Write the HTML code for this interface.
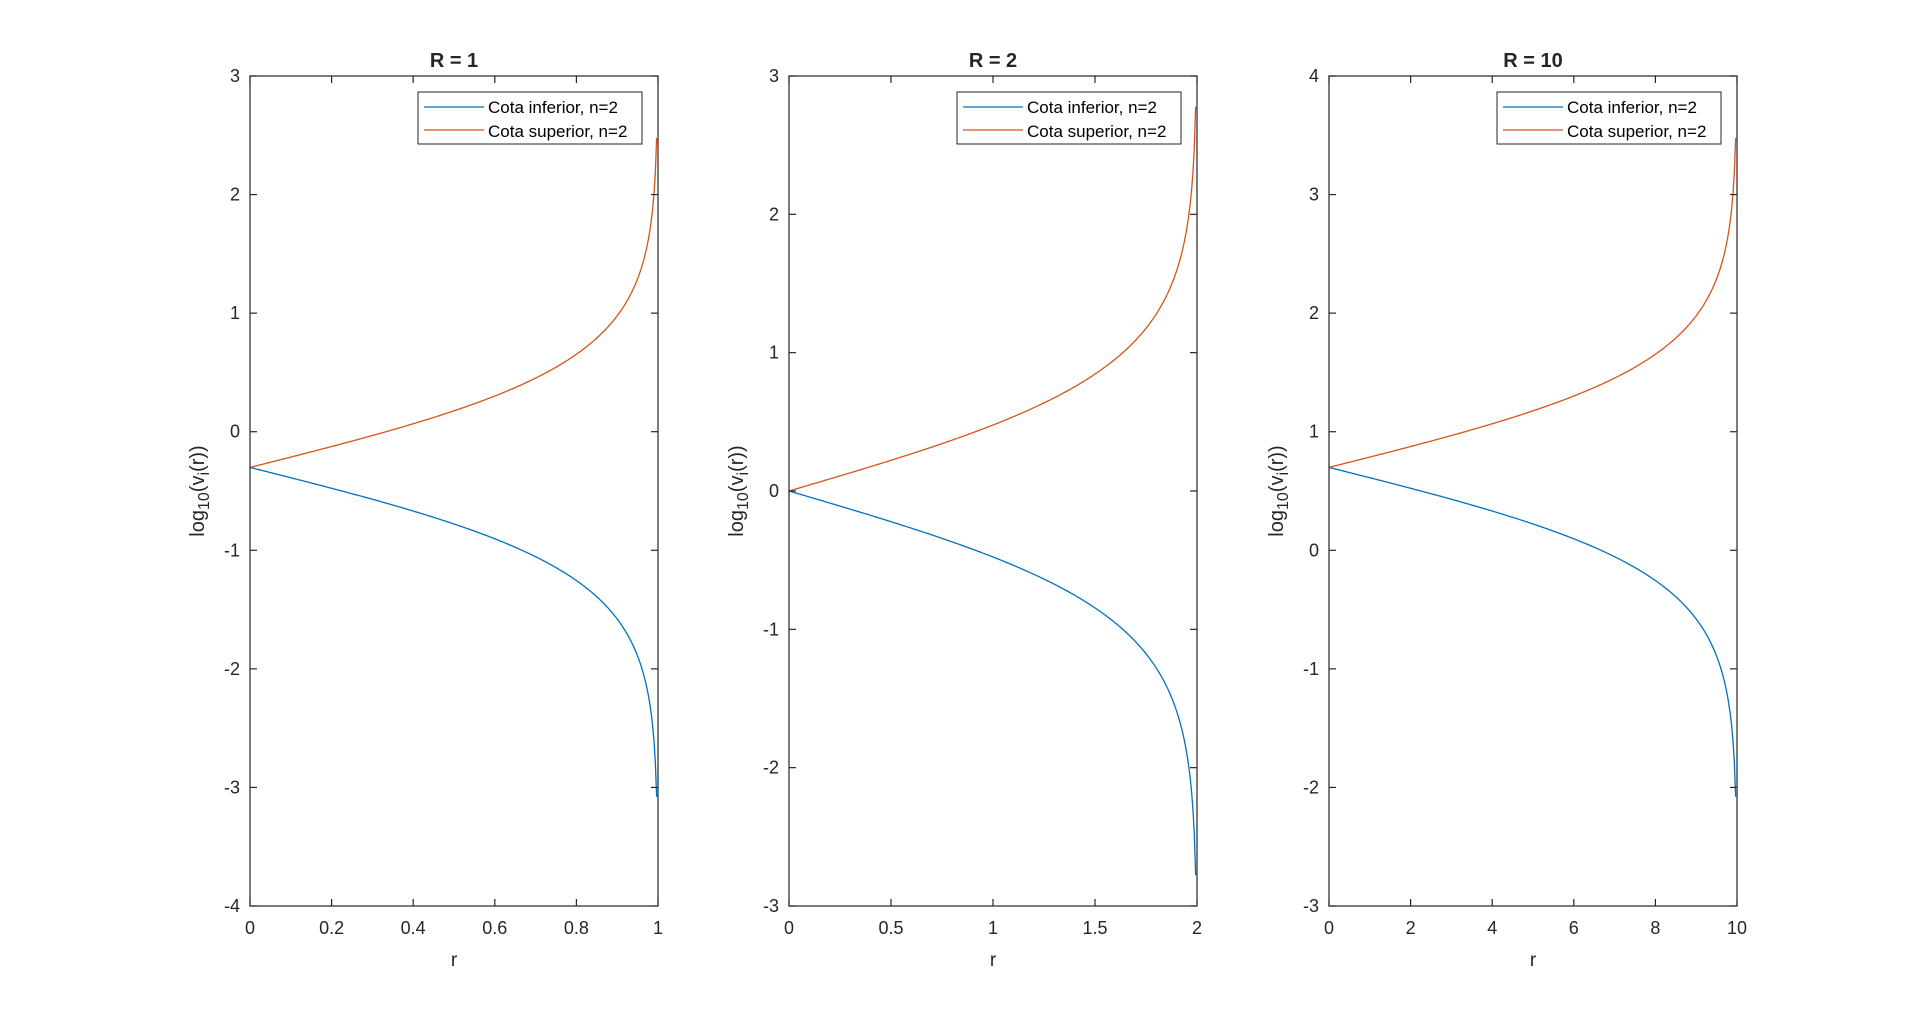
<!DOCTYPE html>
<html><head><meta charset="utf-8"><style>
html,body{margin:0;padding:0;background:#fff;}
svg{display:block;font-family:"Liberation Sans",Arial,sans-serif;}
</style></head><body>
<svg id="s" width="1920" height="1019" viewBox="0 0 1920 1019" xmlns="http://www.w3.org/2000/svg">
<rect width="1920" height="1019" fill="#fff"/>
<g fill="#262626" font-size="18">
<text x="454" y="67" text-anchor="middle" font-weight="bold" font-size="20">R = 1</text>
<text x="993" y="67" text-anchor="middle" font-weight="bold" font-size="20">R = 2</text>
<text x="1533" y="67" text-anchor="middle" font-weight="bold" font-size="20">R = 10</text>
<text x="454" y="966" text-anchor="middle" font-size="19">r</text>
<text x="993" y="966" text-anchor="middle" font-size="19">r</text>
<text x="1533" y="966" text-anchor="middle" font-size="19">r</text>
<text transform="translate(204,491) rotate(-90)" text-anchor="middle" font-size="20">log<tspan font-size="16" dy="5">10</tspan><tspan dy="-5">(v</tspan><tspan font-size="16" dy="5">i</tspan><tspan dy="-5">(r))</tspan></text>
<text transform="translate(743,491) rotate(-90)" text-anchor="middle" font-size="20">log<tspan font-size="16" dy="5">10</tspan><tspan dy="-5">(v</tspan><tspan font-size="16" dy="5">i</tspan><tspan dy="-5">(r))</tspan></text>
<text transform="translate(1283,491) rotate(-90)" text-anchor="middle" font-size="20">log<tspan font-size="16" dy="5">10</tspan><tspan dy="-5">(v</tspan><tspan font-size="16" dy="5">i</tspan><tspan dy="-5">(r))</tspan></text>
</g>
<g id="plots"></g>
</svg>
<script>
var NS="http://www.w3.org/2000/svg";
var g=document.getElementById('plots');
function el(t,a,txt){var e=document.createElementNS(NS,t);for(var k in a)e.setAttribute(k,a[k]);if(txt!==undefined)e.textContent=txt;g.appendChild(e);return e;}
var T=76,B=906,W=408;
var cfg=[{L:250,R:1,ymin:-4,ymax:3,xt:[0,0.2,0.4,0.6,0.8,1]},
{L:789,R:2,ymin:-3,ymax:3,xt:[0,0.5,1,1.5,2]},
{L:1329,R:10,ymin:-3,ymax:4,xt:[0,2,4,6,8,10]}];
cfg.forEach(function(c){
 var X=function(v){return c.L+v/c.R*W;};
 var Y=function(v){return B-(v-c.ymin)/(c.ymax-c.ymin)*(B-T);};
 var d1="",d2="",N=300;
 for(var i=0;i<N;i++){var r=c.R*i/N;var f=(c.R+r)/(c.R-r);
  var lo=Math.log10(c.R/2/f),up=Math.log10(c.R/2*f);
  d1+=(i?"L":"M")+X(r).toFixed(2)+","+Y(lo).toFixed(2);
  d2+=(i?"L":"M")+X(r).toFixed(2)+","+Y(up).toFixed(2);}
 el('path',{d:d1,fill:'none',stroke:'#0072BD','stroke-width':1.3});
 el('path',{d:d2,fill:'none',stroke:'#D95319','stroke-width':1.3});
 el('rect',{x:c.L,y:T,width:W,height:B-T,fill:'none',stroke:'#262626','stroke-width':1.2});
 c.xt.forEach(function(v){var x=X(v);
  el('line',{x1:x,y1:B,x2:x,y2:B-7,stroke:'#262626','stroke-width':1.2});
  el('line',{x1:x,y1:T,x2:x,y2:T+7,stroke:'#262626','stroke-width':1.2});
  el('text',{x:x,y:B+28,'text-anchor':'middle','font-size':18,fill:'#262626'},String(v));});
 for(var v=c.ymin;v<=c.ymax;v++){var y=Y(v);
  el('line',{x1:c.L,y1:y,x2:c.L+7,y2:y,stroke:'#262626','stroke-width':1.2});
  el('line',{x1:c.L+W,y1:y,x2:c.L+W-7,y2:y,stroke:'#262626','stroke-width':1.2});
  el('text',{x:c.L-10,y:y+6,'text-anchor':'end','font-size':18,fill:'#262626'},String(v));}
 var lx=c.L+W-16-224,ly=T+16;
 el('rect',{x:lx,y:ly,width:224,height:52,fill:'#fff',stroke:'#262626','stroke-width':1});
 el('line',{x1:lx+6,y1:ly+15,x2:lx+66,y2:ly+15,stroke:'#0072BD','stroke-width':1.3});
 el('line',{x1:lx+6,y1:ly+38,x2:lx+66,y2:ly+38,stroke:'#D95319','stroke-width':1.3});
 el('text',{x:lx+70,y:ly+21,'font-size':17,fill:'#000'},'Cota inferior, n=2');
 el('text',{x:lx+70,y:ly+45,'font-size':17,fill:'#000'},'Cota superior, n=2');
});
</script>
</body></html>
